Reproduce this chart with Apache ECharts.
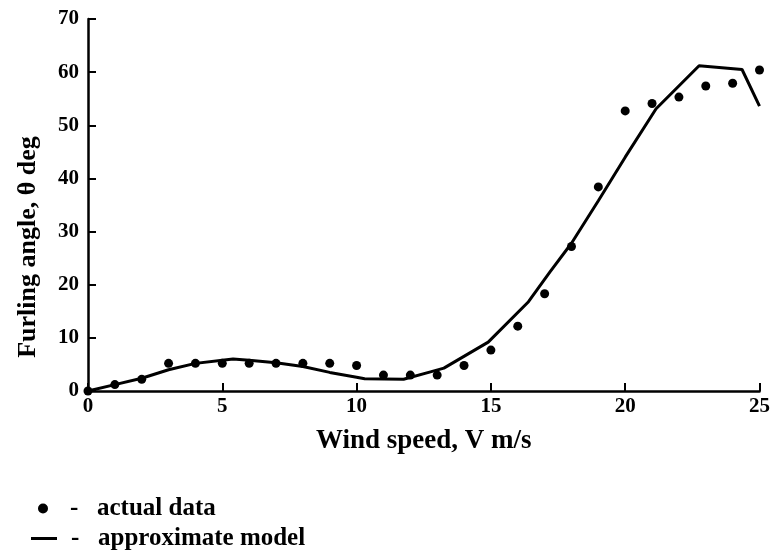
<!DOCTYPE html>
<html>
<head>
<meta charset="utf-8">
<title>Furling angle vs wind speed</title>
<script src="https://cdn.jsdelivr.net/npm/echarts@6/dist/echarts.min.js"></script>
<style>
  html, body { margin: 0; padding: 0; background: #fff; }
  #chart { width: 773px; height: 552px; }
</style>
</head>
<body>
<div id="chart"></div>
<script>
// Measured furling angle (deg) at each wind speed (m/s)
const speed = [0, 1, 2, 3, 4, 5, 6, 7, 8, 9, 10, 11, 12, 13, 14, 15, 16, 17, 18, 19, 20, 21, 22, 23, 24, 25];
const actual = [0, 1.2, 2.2, 5.2, 5.2, 5.2, 5.2, 5.2, 5.2, 5.2, 4.8, 3.0, 3.0, 3.0, 4.8, 7.7, 12.2, 18.3, 27.2, 38.4, 52.7, 54.1, 55.3, 57.4, 57.9, 60.4];

// Approximate model curve
const modelSpeed = [0, 1, 2, 3, 4, 5, 5.4, 6, 7, 8, 9, 10, 10.3, 11.75, 12.75, 13.25, 14.9, 16.4, 17.2, 18, 19, 20, 21.15, 22.75, 24.35, 25];
const modelAngle = [0, 1.2, 2.4, 4.0, 5.2, 5.8, 6.0, 5.8, 5.3, 4.6, 3.5, 2.6, 2.3, 2.2, 3.6, 4.3, 9.2, 16.8, 22.4, 27.8, 35.8, 44.0, 53.1, 61.2, 60.5, 53.6];

const seriesNames = ['actual data', 'approximate model'];

const FONT = '"Liberation Serif", "Times New Roman", serif';
const ink = '#000';

const chart = echarts.init(document.getElementById('chart'), null, { renderer: 'canvas' });

const legendText = {
  fontFamily: FONT, fontWeight: 'bold', fontSize: 25, color: ink,
  rich: {
    d: { fontFamily: FONT, fontWeight: 'bold', fontSize: 25, color: ink, width: 27, padding: [0, 0, 0, 9] },
    t: { fontFamily: FONT, fontWeight: 'bold', fontSize: 25, color: ink }
  }
};

chart.setOption({
  animation: false,
  backgroundColor: '#fff',
  grid: { left: 88, right: 13, top: 19, bottom: 161, containLabel: false },
  xAxis: {
    type: 'value',
    min: 0, max: 25, interval: 5,
    name: 'Wind speed, V m/s',
    nameLocation: 'middle',
    nameGap: 37,
    nameTextStyle: { fontFamily: FONT, fontWeight: 'bold', fontSize: 27, color: ink },
    axisLine: { show: true, lineStyle: { color: ink, width: 2.5 } },
    axisTick: { show: true, inside: true, length: 8, lineStyle: { color: ink, width: 2 } },
    axisLabel: { fontFamily: FONT, fontWeight: 'bold', fontSize: 21, color: ink, margin: 5 },
    splitLine: { show: false }
  },
  yAxis: {
    type: 'value',
    min: 0, max: 70, interval: 10,
    name: 'Furling angle, θ deg',
    nameLocation: 'middle',
    nameRotate: 90,
    nameGap: 47,
    nameTextStyle: { fontFamily: FONT, fontWeight: 'bold', fontSize: 26, color: ink, padding: [0, 84, 0, 0] },
    axisLine: { show: true, lineStyle: { color: ink, width: 2.5 } },
    axisTick: { show: true, inside: true, length: 8, lineStyle: { color: ink, width: 2 } },
    axisLabel: { fontFamily: FONT, fontWeight: 'bold', fontSize: 21, color: ink, margin: 9 },
    splitLine: { show: false }
  },
  legend: [
    {
      data: [{ name: seriesNames[0], icon: 'circle' }],
      orient: 'vertical', left: 33, top: 491,
      itemWidth: 26, itemHeight: 10,
      formatter: n => '{d|-}{t|' + n + '}',
      textStyle: legendText,
      selectedMode: false
    },
    {
      data: [{ name: seriesNames[1], icon: 'path://M0,0 L26,0 L26,3 L0,3 Z' }],
      orient: 'vertical', left: 26, top: 521,
      itemWidth: 26, itemHeight: 10,
      formatter: n => '{d|-}{t|' + n + '}',
      textStyle: legendText,
      selectedMode: false
    }
  ],
  series: [
    {
      name: seriesNames[0],
      type: 'scatter',
      data: speed.map((v, i) => [v, actual[i]]),
      symbol: 'circle',
      symbolSize: 9,
      itemStyle: { color: ink, opacity: 1 },
      z: 3
    },
    {
      name: seriesNames[1],
      type: 'line',
      data: modelSpeed.map((v, i) => [v, modelAngle[i]]),
      showSymbol: false,
      symbol: 'none',
      lineStyle: { color: ink, width: 3 },
      itemStyle: { color: ink },
      z: 2
    }
  ]
});
</script>
</body>
</html>
